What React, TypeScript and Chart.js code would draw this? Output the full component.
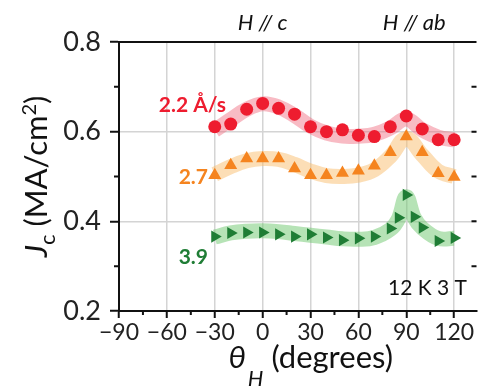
import React, { useEffect, useRef } from "react";
import { Chart, registerables } from "chart.js";
Chart.register(...registerables);

// ---- data ----
const anglesA = [-30, -20, -10, 0, 10, 20, 30, 40, 50, 60, 70, 80, 90, 100, 110, 120];
const jc22 = [0.611, 0.617, 0.65, 0.663, 0.652, 0.639, 0.611, 0.6, 0.604, 0.592, 0.589, 0.611, 0.635, 0.606, 0.582, 0.582];
const band22 = [0.603, 0.627, 0.65, 0.662, 0.655, 0.636, 0.612, 0.597, 0.59, 0.59, 0.594, 0.608, 0.628, 0.604, 0.588, 0.582];
const jc27 = [0.503, 0.525, 0.54, 0.54, 0.54, 0.518, 0.503, 0.503, 0.508, 0.513, 0.524, 0.554, 0.589, 0.554, 0.507, 0.499];
const band27 = [0.505, 0.522, 0.535, 0.54, 0.538, 0.527, 0.512, 0.502, 0.5, 0.503, 0.515, 0.545, 0.585, 0.548, 0.512, 0.5];
const anglesB = [-30, -20, -10, 0, 10, 20, 30, 40, 50, 60, 70, 80, 85, 90, 95, 100, 110, 120];
const jc39 = [0.366, 0.374, 0.375, 0.375, 0.371, 0.366, 0.371, 0.364, 0.358, 0.362, 0.366, 0.384, 0.408, 0.459, 0.41, 0.386, 0.356, 0.363];
const band39 = [0.365, 0.374, 0.378, 0.379, 0.377, 0.373, 0.369, 0.365, 0.361, 0.36, 0.364, 0.382, 0.405, 0.455, 0.408, 0.385, 0.362, 0.362];
const xTicks = [-90, -60, -30, 0, 30, 60, 90, 120];
const xMinorTicks = [-75, -45, -15, 15, 45, 75, 105];
const yTicks = [0.2, 0.4, 0.6, 0.8];
const yMinorTicks = [0.3, 0.5, 0.7];
const seriesLabels = ["2.2 Å/s", "2.7", "3.9"];

const RED = "#ee1c2f";
const ORANGE = "#f5841f";
const GREEN = "#1f7d35";
const FONT = "Lato, 'Open Sans', sans-serif";

const pts = (xs: number[], ys: number[]) => xs.map((x, i) => ({ x, y: ys[i] }));

const band = (data: any, color: string) => ({
  data,
  showLine: true,
  borderColor: color,
  borderWidth: 15,
  borderCapStyle: "butt",
  tension: 0.4,
  pointRadius: 0,
  fill: false,
  order: 1,
});

const overlay = {
  id: "overlay",
  afterDraw(chart: any) {
    const { ctx, chartArea, scales } = chart;
    const { left, right, top, bottom } = chartArea;
    const x = scales.x;
    const y = scales.y;
    ctx.save();
    ctx.strokeStyle = "#111";
    ctx.lineWidth = 2;
    ctx.beginPath();
    ctx.moveTo(left - 1, top);
    ctx.lineTo(right, top);
    ctx.stroke();
    ctx.beginPath();
    for (const v of xMinorTicks) {
      const px = x.getPixelForValue(v);
      ctx.moveTo(px, bottom);
      ctx.lineTo(px, bottom + 4);
    }
    for (const v of yMinorTicks) {
      const py = y.getPixelForValue(v);
      ctx.moveTo(left - 5, py);
      ctx.lineTo(left, py);
    }
    for (const v of [...yMinorTicks, 0.4, 0.6]) {
      const py = y.getPixelForValue(v);
      ctx.moveTo(right - 5, py);
      ctx.lineTo(right, py);
    }
    ctx.stroke();

    // annotations
    ctx.textBaseline = "alphabetic";
    ctx.fillStyle = "#111";
    ctx.font = `italic 22px ${FONT}`;
    ctx.textAlign = "center";
    ctx.fillText("H // c", x.getPixelForValue(0), 30);
    ctx.fillText("H // ab", x.getPixelForValue(95), 30);

    ctx.font = `bold 21px ${FONT}`;
    ctx.textAlign = "right";
    ctx.fillStyle = RED;
    ctx.fillText(seriesLabels[0], 226, 112);
    ctx.fillStyle = ORANGE;
    ctx.fillText(seriesLabels[1], 208, 184);
    ctx.fillStyle = GREEN;
    ctx.fillText(seriesLabels[2], 208, 264);

    ctx.font = `21px ${FONT}`;
    ctx.fillStyle = "#111";
    ctx.fillText("12 K 3 T", 467, 295);

    // x title
    ctx.textAlign = "left";
    ctx.fillStyle = "#111";
    const mainX = `31px ${FONT}`;
    ctx.font = `italic ${mainX}`;
    const th = "θ";
    const wTh = ctx.measureText(th).width;
    ctx.font = `italic 22px ${FONT}`;
    const wH = ctx.measureText("H").width;
    ctx.font = mainX;
    const wDeg = ctx.measureText(" (degrees)").width;
    const total = wTh + wH + wDeg;
    let cx = (left + right) / 2 + 12 - total / 2;
    ctx.font = `italic ${mainX}`;
    ctx.fillText(th, cx, 368);
    cx += wTh + 2;
    ctx.font = `italic 22px ${FONT}`;
    ctx.fillText("H", cx, 386);
    cx += wH;
    ctx.font = mainX;
    ctx.fillText(" (degrees)", cx, 368);

    // y title
    ctx.translate(47, (top + bottom) / 2);
    ctx.rotate(-Math.PI / 2);
    ctx.font = `italic ${mainX}`;
    const wJ = ctx.measureText("J").width;
    ctx.font = `22px ${FONT}`;
    const wc = ctx.measureText("c").width;
    ctx.font = mainX;
    const wUnit = ctx.measureText(" (MA/cm").width;
    ctx.font = `20px ${FONT}`;
    const w2 = ctx.measureText("2").width;
    ctx.font = mainX;
    const wP = ctx.measureText(")").width;
    const ty = wJ + wc + wUnit + w2 + wP;
    let tx = -ty / 2;
    ctx.font = `italic ${mainX}`;
    ctx.fillText("J", tx, 0);
    tx += wJ;
    ctx.font = `22px ${FONT}`;
    ctx.fillText("c", tx, 8);
    tx += wc;
    ctx.font = mainX;
    ctx.fillText(" (MA/cm", tx, 0);
    tx += wUnit;
    ctx.font = `20px ${FONT}`;
    ctx.fillText("2", tx, -11);
    tx += w2;
    ctx.font = mainX;
    ctx.fillText(")", tx, 0);
    ctx.restore();
  },
};

export default function App() {
  const ref = useRef<HTMLCanvasElement>(null);
  useEffect(() => {
    if (!ref.current) return;
    const chart = new Chart(ref.current, {
      type: "scatter",
      data: {
        datasets: [
          {
            data: pts(anglesA, jc22),
            pointStyle: "circle",
            pointRadius: 6.5,
            backgroundColor: RED,
            borderWidth: 0,
            order: 0,
          },
          {
            data: pts(anglesA, jc27),
            pointStyle: "triangle",
            pointRadius: 7.5,
            backgroundColor: ORANGE,
            borderWidth: 0,
            order: 0,
          },
          {
            data: pts(anglesB, jc39),
            pointStyle: "triangle",
            rotation: 90,
            pointRadius: 7,
            backgroundColor: GREEN,
            borderWidth: 0,
            order: 0,
          },
          band(pts(anglesA, band22), "rgba(240, 105, 125, 0.45)"),
          band(pts(anglesA, band27), "rgba(250, 190, 110, 0.5)"),
          band(pts(anglesB, band39), "rgba(110, 200, 110, 0.5)"),
        ] as any,
      },
      options: {
        responsive: false,
        animation: false,
        devicePixelRatio: 1,
        layout: { padding: { top: 42, right: 0, left: 0, bottom: 0 } },
        plugins: { legend: { display: false }, tooltip: { enabled: false } },
        scales: {
          x: {
            type: "linear",
            min: -90,
            max: 134,
            afterBuildTicks: (s: any) => {
              s.ticks = xTicks.map((v) => ({ value: v }));
            },
            afterFit: (s: any) => {
              s.height = 79;
            },
            grid: {
              color: (c: any) => (c.tick && c.tick.value === -90 ? "rgba(0,0,0,0)" : "#d4d4d4"),
              lineWidth: 1.5,
              drawTicks: true,
              tickLength: 7,
              tickColor: "#111",
              tickWidth: 2,
            },
            border: { display: true, color: "#111", width: 2 },
            ticks: {
              autoSkip: false,
              maxRotation: 0,
              padding: 1,
              color: "#222",
              font: { family: FONT, size: 23 },
              callback: (v: any) => (v < 0 ? "\u2212" + Math.abs(v) : String(v)),
            },
          },
          y: {
            type: "linear",
            min: 0.2,
            max: 0.8,
            afterBuildTicks: (s: any) => {
              s.ticks = yTicks.map((v) => ({ value: v }));
            },
            afterFit: (s: any) => {
              s.width = 119;
            },
            grid: {
              color: (c: any) =>
                c.tick && (Math.abs(c.tick.value - 0.4) < 1e-6 || Math.abs(c.tick.value - 0.6) < 1e-6)
                  ? "#d4d4d4"
                  : "rgba(0,0,0,0)",
              lineWidth: 1.5,
              drawTicks: true,
              tickLength: 9,
              tickColor: "#111",
              tickWidth: 2,
            },
            border: { display: true, color: "#111", width: 2 },
            ticks: {
              padding: 9,
              color: "#222",
              font: { family: FONT, size: 27 },
              callback: (v: any) => Number(v).toFixed(1),
            },
          },
        },
      } as any,
      plugins: [overlay],
    });
    return () => chart.destroy();
  }, []);
  return (
    <div style={{ position: "absolute", left: 0, top: 0, width: 484, height: 390, background: "#fff" }}>
      <canvas ref={ref} width={484} height={390} />
    </div>
  );
}
